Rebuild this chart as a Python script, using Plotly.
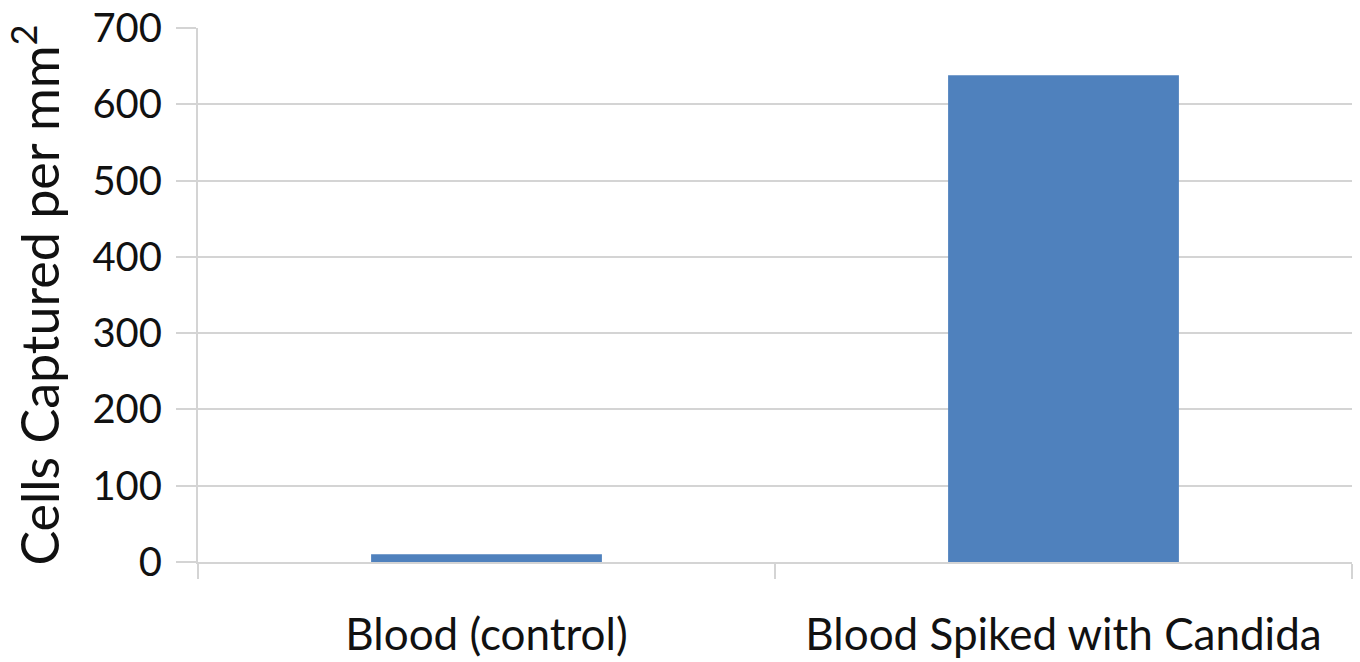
import plotly.graph_objects as go

categories = ["Blood (control)", "Blood Spiked with Candida"]
cells_per_mm2 = [10, 638]
y_ticks = [0, 100, 200, 300, 400, 500, 600, 700]

grid = "#d4d4d4"
font_family = "Lato, 'Open Sans', sans-serif"

fig = go.Figure(
    go.Bar(
        x=categories,
        y=cells_per_mm2,
        marker=dict(color="#4f81bd", line=dict(width=0)),
        width=0.4,
    )
)

fig.update_layout(
    width=1360,
    height=662,
    margin=dict(l=198, r=8, t=28, b=100),
    paper_bgcolor="white",
    plot_bgcolor="white",
    font=dict(family=font_family, size=36, color="#111111"),
    showlegend=False,
)

fig.update_xaxes(
    automargin=False,
    showline=True,
    linecolor=grid,
    linewidth=2,
    ticks="outside",
    tickson="boundaries",
    ticklen=15,
    tickwidth=2,
    tickcolor=grid,
    showgrid=False,
    tickfont=dict(size=44),
    ticklabelstandoff=33,
)

fig.update_yaxes(
    automargin=False,
    range=[0, 700],
    tickvals=y_ticks,
    showline=True,
    linecolor=grid,
    linewidth=2,
    showgrid=True,
    gridcolor=grid,
    gridwidth=2,
    zeroline=False,
    ticks="outside",
    ticklen=20,
    tickwidth=2,
    tickcolor=grid,
    tickfont=dict(size=40),
    ticklabelstandoff=6,
    title=dict(text="Cells Captured per mm<sup>2</sup>", font=dict(size=52), standoff=16),
)

fig.write_html("out.html")
